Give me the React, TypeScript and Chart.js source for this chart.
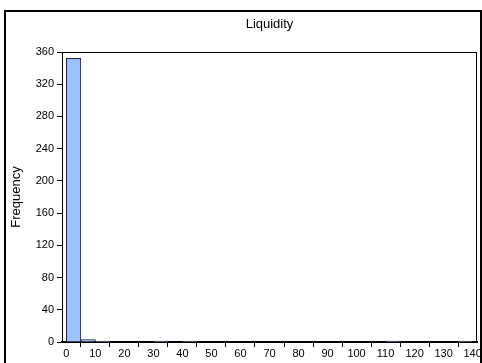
import React, { useEffect, useRef } from "react";
import { Chart, registerables } from "chart.js";

Chart.register(...registerables);

const binStarts = [0, 5, 10, 15, 20, 25, 30, 35, 40, 45, 50, 55, 60, 65, 70, 75, 80, 85, 90, 95, 100, 105, 110, 115, 120, 125, 130, 135];
const binWidth = 5;
const frequencies = [352, 3, 1, 0, 0, 0, 1, 0, 1, 0, 0, 0, 0, 0, 0, 0, 0, 0, 0, 0, 0, 0, 1, 0, 0, 0, 0, 1];
const xTickValues = [0, 10, 20, 30, 40, 50, 60, 70, 80, 90, 100, 110, 120, 130, 140];
const yTickValues = [0, 40, 80, 120, 160, 200, 240, 280, 320, 360];
const chartTitle = "Liquidity";
const yAxisTitle = "Frequency";

const FONT = "'Liberation Sans', Arial, sans-serif";

const framePlugin = {
  id: "frame",
  afterDraw(chart: any) {
    const { ctx, chartArea } = chart;
    ctx.save();
    ctx.strokeStyle = "#000";
    ctx.lineWidth = 2;
    ctx.strokeRect(5, 11, 476, 400);
    ctx.lineWidth = 1;
    ctx.strokeRect(chartArea.left + 0.5, chartArea.top + 0.5, chartArea.right - chartArea.left - 1, chartArea.bottom - chartArea.top);
    ctx.fillStyle = "#000";
    ctx.font = "13px " + FONT;
    ctx.textAlign = "center";
    ctx.textBaseline = "middle";
    ctx.fillText(chartTitle, (chartArea.left + chartArea.right) / 2, 24);
    ctx.translate(16, (chartArea.top + chartArea.bottom) / 2);
    ctx.rotate(-Math.PI / 2);
    ctx.font = "13px " + FONT;
    ctx.fillText(yAxisTitle, 0, 0);
    ctx.restore();
  },
};

export default function App() {
  const ref = useRef<HTMLCanvasElement>(null);
  useEffect(() => {
    if (!ref.current) return;
    const chart = new Chart(ref.current, {
      type: "bar",
      data: {
        datasets: [
          {
            data: binStarts.map((s, i) => ({ x: s + binWidth / 2, y: frequencies[i] })),
            backgroundColor: "#9dc0ff",
            borderColor: "#1c2340",
            borderWidth: 1,
            barPercentage: 1,
            categoryPercentage: 1,
          },
        ],
      },
      options: {
        responsive: false,
        animation: false,
        events: [],
        layout: { padding: { top: 52, right: 5, left: 0, bottom: 0 } },
        plugins: { legend: { display: false }, tooltip: { enabled: false }, title: { display: false } },
        scales: {
          x: {
            type: "linear",
            min: -1.5,
            max: 141.5,
            offset: false,
            afterBuildTicks: (s: any) => {
              s.ticks = xTickValues.map((v) => ({ value: v }));
            },
            afterFit: (s: any) => {
              s.height = 21;
            },
            grid: { display: true, drawOnChartArea: false, drawTicks: true, tickLength: 5, color: "#000" },
            border: { display: true, color: "#000", width: 2 },
            ticks: { color: "#000", font: { family: FONT, size: 11 }, padding: 0, maxRotation: 0, autoSkip: false },
          },
          y: {
            min: 0,
            max: 360,
            afterBuildTicks: (s: any) => {
              s.ticks = yTickValues.map((v) => ({ value: v }));
            },
            afterFit: (s: any) => {
              s.width = 62;
            },
            grid: { display: true, drawOnChartArea: false, drawTicks: true, tickLength: 5, color: "#000" },
            border: { display: true, color: "#000", width: 1 },
            ticks: { color: "#000", font: { family: FONT, size: 11 }, padding: 3, autoSkip: false },
          },
        },
      },
      plugins: [framePlugin],
    });
    return () => chart.destroy();
  }, []);
  return (
    <div style={{ position: "absolute", left: 0, top: 0, width: 482, height: 363 }}>
      <canvas ref={ref} width={482} height={363} />
    </div>
  );
}
